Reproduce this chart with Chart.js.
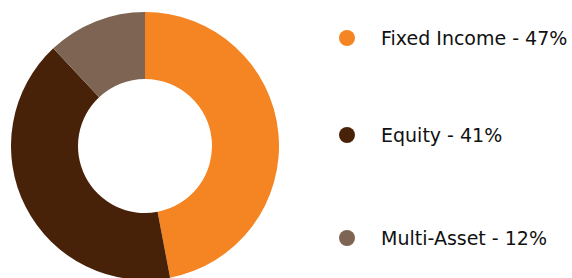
<!DOCTYPE html>
<html>
<head>
<meta charset="utf-8">
<script src="https://cdn.jsdelivr.net/npm/chart.js@4/dist/chart.umd.min.js"></script>
<style>
    html, body { margin: 0; padding: 0; background: #fff; overflow: hidden; }
    body { width: 572px; height: 278px; position: relative; font-family: "DejaVu Sans", sans-serif; }
    #wrap { position: absolute; left: 11px; top: 12px; width: 268px; height: 268px; }
    #legend { position: absolute; left: 339px; top: 0; }
    .item { position: absolute; left: 0; white-space: nowrap; font-size: 19px; color: #111; line-height: 20px; }
    .dot { position: absolute; left: 0; top: 2px; width: 16px; height: 16px; border-radius: 50%; }
    .txt { position: absolute; left: 42px; top: 0; }
</style>
</head>
<body>
<div id="wrap"><canvas id="allocChart"></canvas></div>
<div id="legend"></div>
<script>
// allocation par classe d'actifs
const categories = ['Fixed Income', 'Equity', 'Multi-Asset'];
const shares = [47, 41, 12];
const colors = ['#F58523', '#472209', '#7E6452'];

document.addEventListener('DOMContentLoaded', function() {
    const ctx = document.getElementById('allocChart').getContext('2d');
    const chart = new Chart(ctx, {
        type: 'doughnut',
        data: {
            labels: categories,
            datasets: [{
                data: shares,
                backgroundColor: colors,
                borderWidth: 0,
                hoverOffset: 0
            }]
        },
        options: {
            responsive: true,
            maintainAspectRatio: false,
            animation: false,
            cutout: '50%',
            plugins: {
                legend: { display: false },
                tooltip: { enabled: false }
            }
        }
    });

    // legende html
    const legend = document.getElementById('legend');
    const rowsY = [28, 125, 228];
    chart.data.labels.forEach((label, i) => {
        const item = document.createElement('div');
        item.className = 'item';
        item.style.top = rowsY[i] + 'px';
        item.innerHTML = '<span class="dot" style="background:' + colors[i] + '"></span>' +
            '<span class="txt">' + label + ' - ' + shares[i] + '%</span>';
        legend.appendChild(item);
    });
});
</script>
</body>
</html>
